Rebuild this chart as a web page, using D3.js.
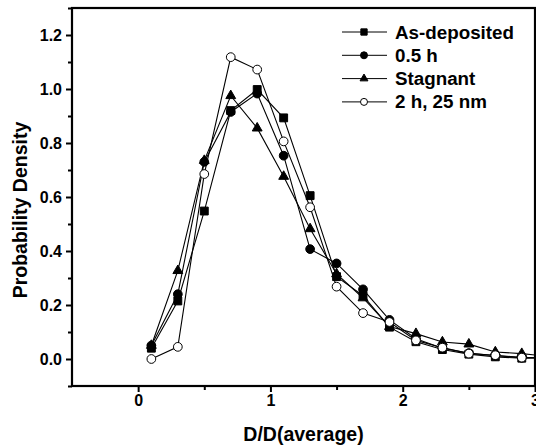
<!DOCTYPE html>
<html>
<head>
<meta charset="utf-8">
<script src="https://cdn.jsdelivr.net/npm/d3@7/dist/d3.min.js"></script>
<style>
  html, body { margin: 0; padding: 0; background: #fff; }
  svg { display: block; font-family: "Liberation Sans", Arial, sans-serif; font-weight: bold; }
</style>
</head>
<body>
<svg id="chart" width="536" height="447"></svg>
<script>
// Particle size distributions, normalised diameter vs probability density
const sizes = [0.1, 0.3, 0.5, 0.7, 0.9, 1.1, 1.3, 1.5, 1.7, 1.9, 2.1, 2.3, 2.5, 2.7, 2.9, 3.1];
const asDeposited = [0.04, 0.215, 0.548, 0.92, 0.998, 0.893, 0.605, 0.305, 0.235, 0.118, 0.064, 0.035, 0.018, 0.008, 0.003, 0.004];
const halfHour    = [0.05, 0.24, 0.73, 0.915, 0.983, 0.753, 0.407, 0.354, 0.258, 0.145, 0.075, 0.04, 0.022, 0.012, 0.005, 0.003];
const stagnant    = [0.05, 0.327, 0.735, 0.975, 0.855, 0.676, 0.482, 0.315, 0.226, 0.12, 0.094, 0.063, 0.055, 0.026, 0.02, 0.01];
const twoHour     = [0.0, 0.045, 0.685, 1.118, 1.072, 0.806, 0.562, 0.268, 0.17, 0.137, 0.069, 0.042, 0.02, 0.014, 0.005, 0.006];

const seriesNames = ["As-deposited", "0.5 h", "Stagnant", "2 h, 25 nm"];
const seriesValues = [asDeposited, halfHour, stagnant, twoHour];
const seriesMarkers = ["square", "circle", "triangle", "open"];

const xTicks = [0, 1, 2, 3];
const xMinorTicks = [0.5, 1.5, 2.5];
const yTicks = [0.0, 0.2, 0.4, 0.6, 0.8, 1.0, 1.2];
const yMinorTicks = [-0.1, 0.1, 0.3, 0.5, 0.7, 0.9, 1.1, 1.3];

const svg = d3.select("#chart");
const plot = { left: 72, top: 8, right: 535, bottom: 386 };

const x = d3.scaleLinear().domain([-0.5, 3.0]).range([plot.left, plot.right]);
const y = d3.scaleLinear().domain([-0.1, 1.3]).range([plot.bottom, plot.top]);

// clip data to the frame
svg.append("defs").append("clipPath").attr("id", "clip")
  .append("rect")
  .attr("x", plot.left).attr("y", plot.top)
  .attr("width", plot.right - plot.left).attr("height", plot.bottom - plot.top);

// axes
svg.append("g").attr("transform", `translate(0,${plot.bottom})`)
  .call(d3.axisBottom(x).tickValues(xTicks).tickFormat(d3.format("d")).tickSize(6).tickPadding(3));
svg.append("g").attr("transform", `translate(0,${plot.bottom})`)
  .call(d3.axisBottom(x).tickValues(xMinorTicks).tickFormat("").tickSize(4))
  .select(".domain").remove();

svg.append("g").attr("transform", `translate(${plot.left},0)`)
  .call(d3.axisLeft(y).tickValues(yTicks).tickFormat(d3.format(".1f")).tickSize(6).tickPadding(4));
svg.append("g").attr("transform", `translate(${plot.left},0)`)
  .call(d3.axisLeft(y).tickValues(yMinorTicks).tickFormat("").tickSize(4))
  .select(".domain").remove();

svg.selectAll(".tick line").attr("stroke", "#000").attr("stroke-width", 2);
svg.selectAll(".domain").remove();
svg.selectAll(".tick text").attr("fill", "#000").attr("font-size", 16).attr("font-weight", "bold")
  .attr("font-family", "'Liberation Sans', Arial, sans-serif");

// frame
svg.append("rect")
  .attr("x", plot.left).attr("y", plot.top)
  .attr("width", plot.right - plot.left).attr("height", plot.bottom - plot.top)
  .attr("fill", "none").attr("stroke", "#000").attr("stroke-width", 2.2);

// axis titles
svg.append("text")
  .attr("x", (plot.left + plot.right) / 2).attr("y", 441)
  .attr("text-anchor", "middle").attr("font-size", 19.5)
  .text("D/D(average)");
svg.append("text")
  .attr("transform", "translate(27,210) rotate(-90)")
  .attr("text-anchor", "middle").attr("font-size", 19.5)
  .text("Probability Density");

function markerPath(kind, scale) {
  const s = scale || 1;
  if (kind === "square") return d3.symbol(d3.symbolSquare, 62 * s * s)();
  if (kind === "triangle") return d3.symbol(d3.symbolTriangle, 42 * s * s)();
  return d3.symbol(d3.symbolCircle, 60 * s * s)();
}

const dataLayer = svg.append("g").attr("clip-path", "url(#clip)");
const line = d3.line().x((d, i) => x(sizes[i])).y(d => y(d));

seriesValues.forEach((vals, k) => {
  const g = dataLayer.append("g");
  g.append("path").datum(vals)
    .attr("d", line)
    .attr("fill", "none").attr("stroke", "#000").attr("stroke-width", 1.1);
  g.selectAll("path.mk").data(vals).join("path")
    .attr("class", "mk")
    .attr("transform", (d, i) => `translate(${x(sizes[i])},${y(d)})`)
    .attr("d", markerPath(seriesMarkers[k]))
    .attr("fill", seriesMarkers[k] === "open" ? "#fff" : "#000")
    .attr("stroke", "#000").attr("stroke-width", 1);
});

// legend
const legend = svg.append("g");
seriesNames.forEach((name, k) => {
  const cy = 32 + k * 23.3;
  legend.append("line")
    .attr("x1", 342).attr("x2", 387).attr("y1", cy).attr("y2", cy)
    .attr("stroke", "#000").attr("stroke-width", 1);
  legend.append("path")
    .attr("transform", `translate(364,${cy})`)
    .attr("d", markerPath(seriesMarkers[k], 0.8))
    .attr("fill", seriesMarkers[k] === "open" ? "#fff" : "#000")
    .attr("stroke", "#000").attr("stroke-width", 1);
  legend.append("text")
    .attr("x", 395).attr("y", cy + 6.5)
    .attr("font-size", 18.8)
    .text(name);
});
</script>
</body>
</html>
